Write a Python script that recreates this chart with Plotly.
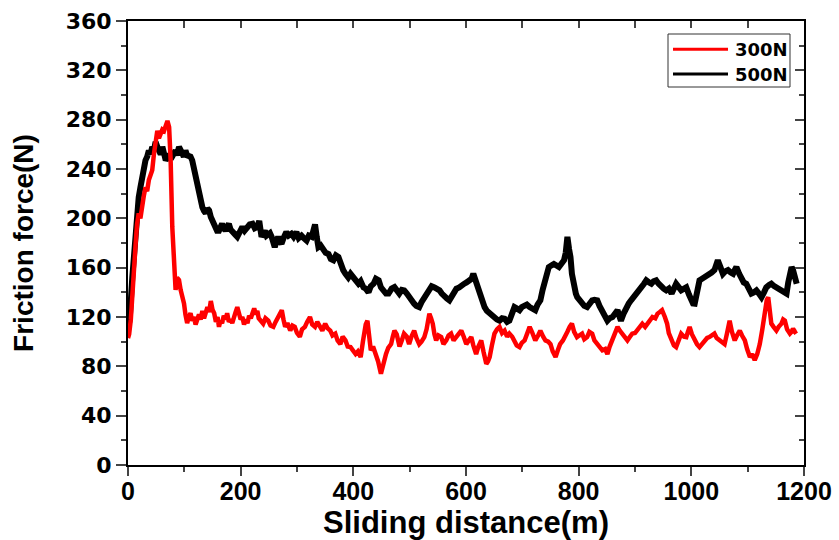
import plotly.graph_objects as go

# Friction force vs sliding distance for two normal loads
dist_300 = [0, 2, 5, 7.6, 10, 13.5, 16, 19, 22, 24.8, 28, 31, 34, 37, 40, 43, 46, 49, 52, 55, 58, 61, 64, 67, 70, 73,
            75.7, 78.6, 81.6, 84.5, 87, 90.5, 93.4, 96, 99.4, 102, 105, 108, 111, 114, 117, 120, 123, 126, 129, 132,
            135, 138, 141, 144, 147, 150, 153, 156, 159, 161.5, 164, 167, 170, 173, 176, 179, 182, 185, 188, 191, 194,
            197, 200, 203, 206, 209, 212, 215, 218, 221, 224, 227, 229.6, 232, 235.5, 240, 244, 249, 253, 258, 262,
            267, 270, 273, 276, 279, 283, 288, 292, 296, 300, 305, 309, 314, 318, 323, 327, 332, 336, 341, 345, 350,
            354, 359, 363, 368, 372, 377, 381, 386, 390, 395, 399, 404, 408, 413, 417, 420, 422, 425, 428, 431, 435,
            440, 444, 449, 453, 458, 462, 467, 470, 473, 477, 482, 486, 490, 495, 499, 503, 508, 512, 517, 521, 526,
            530, 533, 535, 538, 541, 544, 547, 551, 556, 560, 565, 569, 573.5, 578, 582, 587, 591.6, 596, 600.5, 605,
            609.4, 613, 618, 622, 627, 631, 636, 639, 642, 646, 650.5, 655, 659.5, 664, 668.5, 673, 677, 682, 686,
            690, 695, 699, 704, 708, 713, 717, 721, 723, 728, 732, 737, 741, 746, 750, 754, 759, 763, 767, 772, 776,
            780, 784, 788, 792, 797, 801, 806, 810, 815, 819, 824, 828, 833, 837, 842, 847, 851, 855, 860, 864, 869,
            873, 877.5, 882, 886.5, 891, 895, 900, 904, 909, 913, 918, 922, 927, 931, 936, 940, 944, 948, 953, 957,
            960, 963, 965, 969, 973, 978, 982, 987, 991, 994, 997, 1001, 1006, 1010, 1014.5, 1019, 1023, 1028, 1032,
            1036, 1041, 1045, 1050, 1054, 1059, 1063, 1068, 1072, 1077, 1081, 1086, 1090, 1095, 1099, 1104, 1108,
            1112.5, 1117, 1121.5, 1126, 1130.5, 1134, 1136.5, 1139, 1142, 1146, 1151, 1155, 1160, 1163, 1166, 1170,
            1175, 1178, 1180.5, 1184, 1187]
force_300 = [103, 106, 118, 141, 160, 179, 195, 204, 200, 212, 218, 225, 222, 231, 236, 239, 252, 260, 271, 265, 269,
             272, 271, 274, 279, 274, 247, 193, 158, 142, 152, 150, 142, 137, 131, 122, 115, 120, 123, 117, 120, 114,
             117, 122, 118, 125, 119, 123, 128, 124, 133, 126, 123, 116, 120, 112, 117, 115, 121, 118, 123, 116, 118,
             115, 121, 124, 128, 122, 118, 120, 114, 118, 115, 121, 119, 123, 127, 122, 125, 119, 117, 114.6, 119, 117,
             113, 112, 116, 120, 123, 125.5, 118, 112, 115, 109, 113, 112, 107, 104, 110, 112, 116, 120, 114, 112, 116,
             112, 109, 114.6, 111, 109, 105, 106.5, 101, 98, 104, 101, 96, 95.6, 93, 90, 92, 87.5, 100, 110, 114, 117,
             100, 93, 96, 90, 84, 74, 82, 90, 95, 98, 104, 109, 106, 96, 101, 106.5, 104, 98, 104, 109, 103, 98, 100,
             103.7, 110, 118, 122.7, 119, 114.6, 106, 101, 105, 103.7, 98, 101, 105, 106.5, 101, 103.7, 106, 109, 104,
             98, 101, 103.7, 97, 90, 96, 101, 92, 82, 84, 87.5, 97, 106.5, 110, 112, 107, 109, 104, 106.5, 104, 101,
             97, 95.6, 99, 101, 106, 112, 108, 103.7, 101, 105, 109, 104, 101, 100, 98, 92, 87.5, 93, 98, 101, 103.7,
             108, 112, 114.6, 108, 103.7, 105, 106.5, 102, 103.7, 108, 106.5, 101, 98, 96, 93, 94, 90, 96, 101, 107,
             112, 109, 106.5, 103, 101, 104, 106.5, 107, 109, 112, 114.6, 112, 114.6, 118, 120, 119, 122.7, 124, 125.5,
             120, 114.6, 107, 103.7, 101, 97, 95.6, 101, 106.5, 104, 103.7, 108, 112, 106, 101, 98, 95.6, 98, 101, 103,
             103.7, 105, 106.5, 103, 101, 100, 98, 106, 117, 108, 101, 105, 109, 105, 101, 94, 87.5, 90, 85, 90, 98,
             110, 125.5, 134, 136, 124, 114.6, 112, 109, 112, 114.6, 118, 117, 110, 106.5, 108, 110.5, 108, 109]

dist_500 = [0, 3, 7.6, 10, 13.5, 16, 19, 22, 24.8, 28, 31, 34, 37, 40, 43, 46, 49, 52, 55, 58, 61, 64, 67, 70, 73, 76,
            79, 82, 84.5, 87, 90.5, 93, 96.5, 99, 102, 105, 108, 111, 114, 117, 120, 123, 126, 129, 132, 135, 138,
            141, 144, 147, 150, 153, 155.6, 158, 161.5, 164, 167, 170, 173, 176, 179, 182, 185, 190, 194, 198, 203,
            207, 212, 216, 221, 225, 229.6, 233, 237, 240, 243, 246, 249, 252, 255, 258, 260.5, 264, 266.6, 270,
            272.5, 277, 281, 285, 290, 294, 299, 303, 308, 312, 317, 321, 326, 329, 332, 335, 338, 342, 347, 351, 356,
            360, 364.6, 369, 373.5, 378, 382, 386, 391, 395, 400, 404, 409, 413, 418, 422, 427, 431, 436, 440, 445,
            449, 453.6, 458, 462.5, 468, 473, 477, 481.6, 486, 490.4, 495, 499, 503, 508, 512, 517, 521, 526, 530,
            535, 539, 544, 548, 553, 557, 561.6, 566, 570.5, 575, 579, 583, 588, 592, 597, 601, 606, 610, 613, 615,
            619, 624, 628, 633, 637, 642, 646, 650.5, 655, 659.5, 664, 668.5, 673, 677, 681, 686, 690, 695, 699, 704,
            708, 713, 718, 723, 727, 732, 736, 741, 744, 747, 752, 756, 760, 765, 769, 774, 777, 780, 783, 785.5, 788,
            791.5, 795, 797.5, 802, 806, 810, 815, 819, 824, 828, 833, 837, 842, 847, 851, 855, 860, 865, 869, 872,
            875, 880, 884, 889, 893, 898, 902, 907, 911, 916, 920, 925, 929, 933, 937.5, 942, 946.5, 951, 955.5, 960,
            965, 969, 973, 978, 982, 987, 991, 996, 1000, 1003, 1006, 1010, 1014.5, 1019, 1023, 1028, 1032, 1036,
            1041, 1044, 1047, 1052, 1056, 1060, 1065, 1070, 1074, 1077, 1080, 1085, 1089, 1093, 1097.5, 1102, 1106.5,
            1111, 1115.5, 1120, 1124.5, 1129, 1133, 1138, 1142, 1147, 1151, 1156, 1160, 1165, 1169, 1172, 1175, 1178,
            1180.5, 1184, 1187]
force_500 = [110, 118, 152, 168, 185, 200, 217, 225, 233, 242, 247, 250, 255, 252, 258, 255, 262, 258, 255, 252, 258,
             253, 247, 249, 252.5, 248, 249.7, 253, 255, 251, 258, 254, 252.5, 250, 255, 251, 249.7, 250, 247, 240,
             233, 226, 220, 214, 209, 206, 204, 208, 206.4, 201, 198, 195, 193, 190, 190, 194, 195.6, 192, 190, 193,
             195.6, 191, 190, 187, 185, 189, 193, 190, 193, 195, 195.6, 192, 193, 198, 185, 189, 190, 186, 187.5, 188,
             185, 181, 176.7, 182, 185, 181, 179.4, 185, 188.8, 186, 187.5, 185, 188.8, 184, 186, 184, 182, 186, 185,
             190, 195, 185, 176.7, 178, 174, 172, 171, 167, 166, 170, 168.6, 162, 158, 155, 152, 155, 152, 149, 147,
             149, 144, 143, 140, 145, 147, 151, 149.7, 144, 141.6, 139, 139, 143, 144.2, 141, 139, 142, 141.6, 139,
             136, 133, 130.8, 129, 128, 132, 136, 139, 141.6, 145, 144, 143, 141.6, 139, 136, 135, 133.5, 137, 141.6,
             143, 144, 146, 147, 148, 149.7, 151, 155, 152, 149, 141.6, 134, 128, 125, 122.7, 121, 120, 118, 117, 119,
             118.6, 116, 117, 122, 128, 127, 125.5, 128, 129.4, 130, 128, 127, 125.5, 130, 133.5, 142, 152, 157,
             160.5, 162, 163, 162, 160.5, 163, 166, 172, 185, 175, 168.6, 155, 144, 139, 136, 133, 130.8, 129, 128,
             131, 133.5, 134, 133.5, 129, 125.5, 121, 117, 119, 120, 123, 125.5, 121, 117, 123, 128, 131, 133.5, 136,
             139, 142, 144, 147, 149.7, 148, 147, 149, 149.7, 147, 144, 143, 141.6, 143, 139, 143, 147, 144, 141.6,
             143, 144, 138, 133.5, 131, 130.8, 140, 149.7, 151, 152, 153, 155, 156, 158, 162, 166, 160, 155, 157, 158,
             156, 155, 158, 160.5, 155, 149.7, 148, 147, 143, 139, 140, 141.6, 139, 136, 140, 144, 146, 147, 145, 144,
             143, 141.6, 140, 139, 148, 155, 160.5, 158, 152, 147]

load_names = ["300N", "500N"]
load_colors = ["#ff0000", "#000000"]

x_ticks = [0, 200, 400, 600, 800, 1000, 1200]
y_ticks = [0, 40, 80, 120, 160, 200, 240, 280, 320, 360]

W, H = 839, 540
L, R, T, B = 128, 35, 21, 75
PW, PH = W - L - R, H - T - B


def px(xp):
    return (xp - L) / PW


def py(yp):
    return (H - B - yp) / PH


fig = go.Figure()
fig.add_trace(go.Scatter(x=dist_500, y=force_500, mode="lines", name=load_names[1],
                         line=dict(color=load_colors[1], width=6), showlegend=False))
fig.add_trace(go.Scatter(x=dist_300, y=force_300, mode="lines", name=load_names[0],
                         line=dict(color=load_colors[0], width=4.5), showlegend=False))

tick_font_y = dict(family="DejaVu Sans", size=22, color="black", weight="bold")
tick_font_x = dict(family="Liberation Sans", size=25, color="black", weight="bold")

fig.update_layout(
    width=W, height=H,
    margin=dict(l=L, r=R, t=T, b=B),
    paper_bgcolor="white", plot_bgcolor="white",
    xaxis=dict(range=[0, 1200], tickvals=x_ticks, ticks="outside", ticklen=9, tickwidth=2,
               showline=True, linewidth=2, linecolor="black", showgrid=False, zeroline=False,
               automargin=False, ticklabelstandoff=-6,
               minor=dict(dtick=100, ticks="outside", ticklen=5, tickwidth=2, showgrid=False),
               tickfont=tick_font_x,
               title=dict(text="Sliding distance(m)", standoff=2,
                          font=dict(family="Liberation Sans", size=31, color="black", weight="bold"))),
    yaxis=dict(range=[0, 360], tickvals=y_ticks, ticks="outside", ticklen=10, tickwidth=2,
               showline=True, linewidth=2, linecolor="black", showgrid=False, zeroline=False,
               automargin=False,
               minor=dict(dtick=20, ticks="outside", ticklen=5, tickwidth=2, showgrid=False),
               tickfont=tick_font_y,
               title=dict(text="Friction force(N)", standoff=24,
                          font=dict(family="Liberation Sans", size=28, color="black", weight="bold"))),
    xaxis2=dict(range=[0, 1200], overlaying="x", side="top", tickvals=x_ticks, ticks="inside",
                ticklen=7, tickwidth=2, showticklabels=False, showline=True, linewidth=2,
                linecolor="black", showgrid=False, zeroline=False, automargin=False,
                minor=dict(dtick=100, ticks="inside", ticklen=7, tickwidth=2, showgrid=False)),
    yaxis2=dict(range=[0, 360], overlaying="y", side="right", tickvals=y_ticks, ticks="inside",
                ticklen=9, tickwidth=2, showticklabels=False, showline=True, linewidth=2,
                linecolor="black", showgrid=False, zeroline=False, automargin=False,
                minor=dict(dtick=20, ticks="inside", ticklen=5, tickwidth=2, showgrid=False)),
)

# placeholder trace so the mirrored top/right axes are drawn
fig.add_trace(go.Scatter(x=[None], y=[None], xaxis="x2", yaxis="y2", showlegend=False, hoverinfo="skip"))

# legend box with line samples and labels
fig.add_shape(type="rect", xref="paper", yref="paper", x0=px(668), x1=px(790), y0=py(87), y1=py(34),
              line=dict(color="#333333", width=1), fillcolor="white")
for i, yc in enumerate([49.3, 74]):
    fig.add_shape(type="line", xref="paper", yref="paper", x0=px(673), x1=px(728), y0=py(yc), y1=py(yc),
                  line=dict(color=load_colors[i], width=3))
    fig.add_annotation(xref="paper", yref="paper", x=px(733), y=py(yc), text=load_names[i], showarrow=False,
                       xanchor="left", yanchor="middle",
                       font=dict(family="DejaVu Sans", size=18, color="black", weight="bold"))

fig.write_html("out.html")
